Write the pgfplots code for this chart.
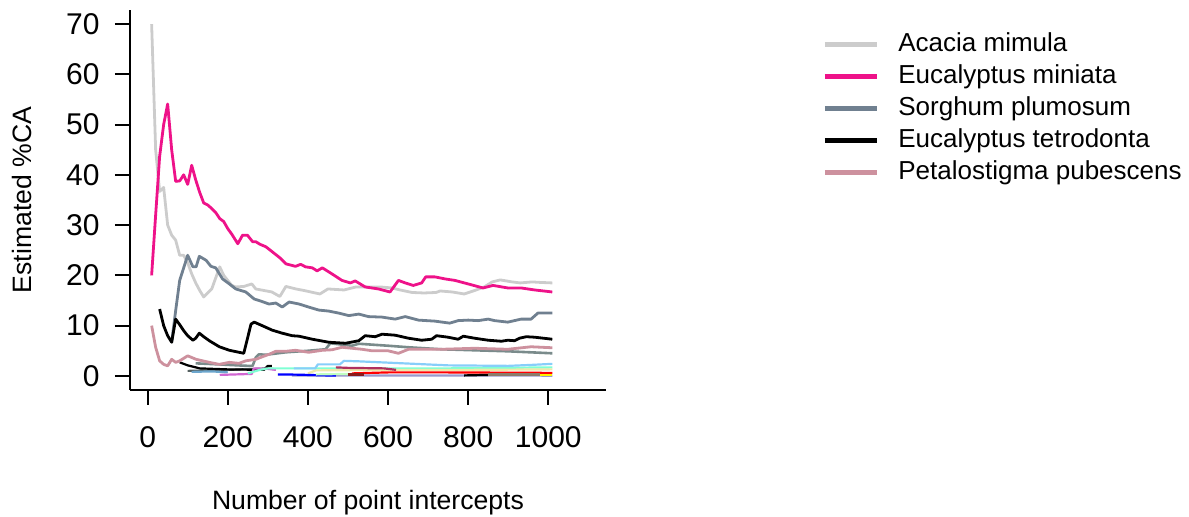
\documentclass[border=0pt]{standalone}
\usepackage{fontspec}
\setmainfont{Liberation Sans}
\usepackage{pgfplots}
\pgfplotsset{compat=1.18}
\definecolor{cacacia}{HTML}{CCCCCC}
\definecolor{cmini}{HTML}{EE1289}
\definecolor{csorg}{HTML}{708090}
\definecolor{cpeta}{HTML}{CD919E}
\definecolor{cdsg}{HTML}{7A8B8B}
\newcommand{\fs}{\fontsize{13.3}{16}\selectfont}
\newcommand{\ft}{\fontsize{15}{18}\selectfont}
\newcommand{\fl}{\fontsize{13}{15.5}\selectfont}
\begin{document}
\begin{tikzpicture}
\useasboundingbox (0,0) rectangle (594.5pt,258.5pt);
\begin{axis}[
  at={(65pt,63.5pt)}, anchor=south west,
  scale only axis, width=238pt, height=190pt,
  xmin=-44, xmax=1144, ymin=-2.8, ymax=72.8,
  axis lines*=left, axis line style={-, line width=1pt},
  xtick={0,200,...,1000}, ytick={0,10,...,70},
  tick align=outside, major tick length=7.5pt,
  tick style={line width=1pt, black},
  /pgf/number format/assume math mode=true,
  /pgf/number format/1000 sep={},
  ticklabel style={font=\ft},
  xticklabel style={anchor=center, inner sep=0pt, text height=10.7pt, text depth=0pt, yshift=-16pt},
  yticklabel style={anchor=east, inner sep=0pt, xshift=-7.5pt},
  label style={font=\fs},
  xlabel={Number of point intercepts},
  ylabel={Estimated \%CA},
  xlabel style={at={(axis description cs:0.5,-0.297)}, anchor=center},
  ylabel style={at={(axis description cs:-0.2269,0.5)}, anchor=center},
  legend style={at={(axis description cs:1.4537,0.942)}, anchor=north west,
    draw=none, fill=none, inner sep=0pt, row sep=3.6pt, column sep=9.5pt,
    font=\fl, nodes={inner sep=0pt, text height=9.6pt, text depth=2.8pt}},
  legend cell align=left,
  legend image code/.code={\draw[line width=2.5pt] (0pt,0pt) -- (26pt,0pt);},
  every axis plot/.append style={line join=round},
]
% small series near zero (not in legend)
\addplot[forget plot, color=cdsg!70!black, line width=1.1pt] coordinates {(100,1.0) (200,1.2) (300,1.5) (320,1.3)};
\addplot[forget plot, color=black, line width=1.1pt] coordinates {(80,2.7) (100,2.1) (130,1.5) (200,1.3) (290,1.2) (300,2.0) (310,2.0)};
\addplot[forget plot, color=lightgray!80!blue, line width=1.1pt] coordinates {(360,0.1) (600,0.1) (1010,0.05)};
\addplot[forget plot, color={rgb,255:red,108;green,166;blue,205}, line width=1.1pt] coordinates {(110,0.8) (160,0.9) (200,0.7)};
\addplot[forget plot, color=violet!60!magenta!60, line width=1.1pt] coordinates {(180,0.2) (220,0.3) (260,0.4) (265,1.5) (300,1.4) (320,1.2)};
\addplot[forget plot, color={rgb,255:red,127;green,255;blue,212}, line width=1.1pt] coordinates {(250,0.5) (280,1.2) (300,1.5) (365,1.5) (600,1.5) (750,1.5) (1010,1.7)};
\addplot[forget plot, color={rgb,255:red,238;green,232;blue,170}, line width=1.1pt] coordinates {(400,0.5) (420,1.1) (600,1.2) (800,1.2) (1010,1.3)};
\addplot[forget plot, color={rgb,255:red,135;green,206;blue,250}, line width=1.1pt] coordinates {(365,1.5) (418,1.5) (425,2.3) (480,2.3) (490,3.0) (527,2.9) (750,2.1) (900,2.0) (960,2.2) (1010,2.4)};
\addplot[forget plot, color={rgb,255:red,176;green,48;blue,96}, line width=1.1pt] coordinates {(470,1.7) (500,1.6) (590,1.5) (620,1.2)};
\addplot[forget plot, color=red, line width=1.1pt] coordinates {(510,0.5) (600,0.7) (750,0.7) (1010,0.6)};
\addplot[forget plot, color=blue, line width=1.1pt] coordinates {(325,0.3) (375,0.25) (445,0.1) (470,0.1)};
\addplot[forget plot, color={rgb,255:red,193;green,255;blue,193}, line width=1.1pt] coordinates {(420,0.3) (500,0.4)};
\addplot[forget plot, color={rgb,255:red,139;green,26;blue,26}, line width=1.1pt] coordinates {(500,0.3) (540,0.3)};
\addplot[forget plot, color=black, line width=1.1pt] coordinates {(790,0.1) (850,0.2)};
\addplot[forget plot, color={rgb,255:red,139;green,125;blue,107}, line width=1.1pt] coordinates {(850,0.3) (980,0.3)};
\addplot[forget plot, color=yellow, line width=1.1pt] coordinates {(980,0.2) (1010,0.2)};
\addplot[forget plot, color=cdsg, line width=1.3pt] coordinates {(120,2.5) (150,2.4) (200,2.2) (250,2.0) (262,2.0) (270,3.7) (278,4.3) (295,4.2) (345,4.7) (400,5.0) (444,5.3) (456,6.5) (477,6.3) (510,6.0) (527,6.4) (601,6.0) (651,5.7) (733,5.3) (816,5.1) (899,4.9) (1010,4.5)};
% main series
\addplot[color=cacacia, line width=1.4pt] coordinates {(10,70) (20,45) (30,36.7) (40,37.5) (50,30) (60,28) (70,27) (80,24) (90,24) (100,22.5) (110,20.3) (120,18.5) (130,17) (140,15.7) (150,16.5) (160,17.3) (170,19.5) (180,21.7) (190,20) (200,19) (210,18) (220,17.7) (240,17.8) (260,18.3) (270,17.3) (290,17) (310,16.7) (330,15.8) (345,17.8) (370,17.3) (390,17) (430,16.3) (450,17.3) (490,17.1) (520,17.7) (550,17.7) (580,17.7) (610,17.5) (630,17.1) (660,16.6) (690,16.5) (720,16.6) (730,16.9) (760,16.7) (790,16.3) (820,17.1) (840,17.7) (860,18.7) (880,19.1) (910,18.7) (930,18.5) (960,18.7) (980,18.6) (1010,18.5)};
\addlegendentry{Acacia mimula}
\addplot[color=cmini, line width=1.4pt] coordinates {(10,20) (20,32) (30,43.7) (40,50) (50,54.1) (60,45) (70,38.7) (80,38.8) (90,40) (100,38.1) (110,41.9) (120,39) (130,36.5) (140,34.4) (150,34) (160,33.3) (170,32.5) (180,31.3) (190,30.7) (200,29.3) (210,28.2) (225,26.3) (237,28) (249,28) (262,26.7) (270,26.7) (280,26.2) (295,25.7) (311,24.7) (330,23.5) (345,22.3) (369,21.8) (382,22.2) (394,21.7) (411,21.5) (423,20.9) (436,21.5) (460,20.3) (485,19) (506,18.5) (518,18.9) (543,17.7) (576,17.3) (605,16.7) (626,19) (643,18.5) (663,18) (684,18.5) (694,19.7) (717,19.7) (742,19.3) (767,19) (800,18.3) (837,17.5) (862,18) (899,17.5) (932,17.5) (966,17.1) (1010,16.7)};
\addlegendentry{Eucalyptus miniata}
\addplot[color=csorg, line width=1.4pt] coordinates {(60,6.7) (70,13) (80,19) (90,21.5) (100,24) (113,21.7) (121,21.7) (129,23.8) (146,23) (158,21.8) (170,21.5) (187,19.3) (204,18.3) (220,17.3) (245,16.7) (266,15.3) (282,14.9) (303,14.3) (320,14.5) (336,13.7) (353,14.7) (378,14.3) (402,13.7) (427,13.1) (452,12.9) (477,12.5) (502,12) (527,12.3) (551,11.8) (585,11.7) (618,11.3) (643,11.8) (676,11.1) (717,10.9) (754,10.5) (775,11) (800,11.1) (825,11) (850,11.3) (866,11) (899,10.7) (932,11.3) (957,11.3) (974,12.5) (1010,12.5)};
\addlegendentry{Sorghum plumosum}
\addplot[color=black, line width=1.4pt] coordinates {(30,13.3) (40,10) (50,8) (60,6.7) (70,11.3) (80,10.2) (90,9) (100,8) (113,7.1) (120,7.5) (129,8.5) (140,7.8) (154,7) (179,5.8) (204,5.1) (240,4.5) (258,10.3) (266,10.7) (286,10) (311,9.1) (336,8.5) (361,8) (378,7.9) (411,7.3) (452,6.7) (494,6.5) (527,7) (543,8) (568,7.8) (585,8.3) (618,8.1) (651,7.5) (684,7.1) (709,7.3) (721,8) (750,7.7) (775,7.3) (788,7.9) (816,7.5) (850,7.1) (883,6.9) (899,7.1) (916,7) (928,7.5) (945,7.8) (966,7.7) (1010,7.3)};
\addlegendentry{Eucalyptus tetrodonta}
\addplot[color=cpeta, line width=1.4pt] coordinates {(10,10) (20,5.7) (30,3) (40,2.3) (50,2) (60,3.3) (70,2.7) (80,3) (90,3.5) (100,4) (121,3.3) (154,2.7) (179,2.3) (204,2.7) (228,2.5) (245,3) (270,3.3) (286,3.8) (303,4.3) (320,4.9) (345,4.9) (369,5.1) (402,4.7) (436,5.1) (460,5.2) (485,5.7) (535,5.3) (560,5) (600,5) (626,4.5) (651,5.3) (733,5.3) (816,5.5) (899,5.3) (957,5.8) (1010,5.6)};
\addlegendentry{Petalostigma pubescens}
\end{axis}
\end{tikzpicture}
\end{document}
